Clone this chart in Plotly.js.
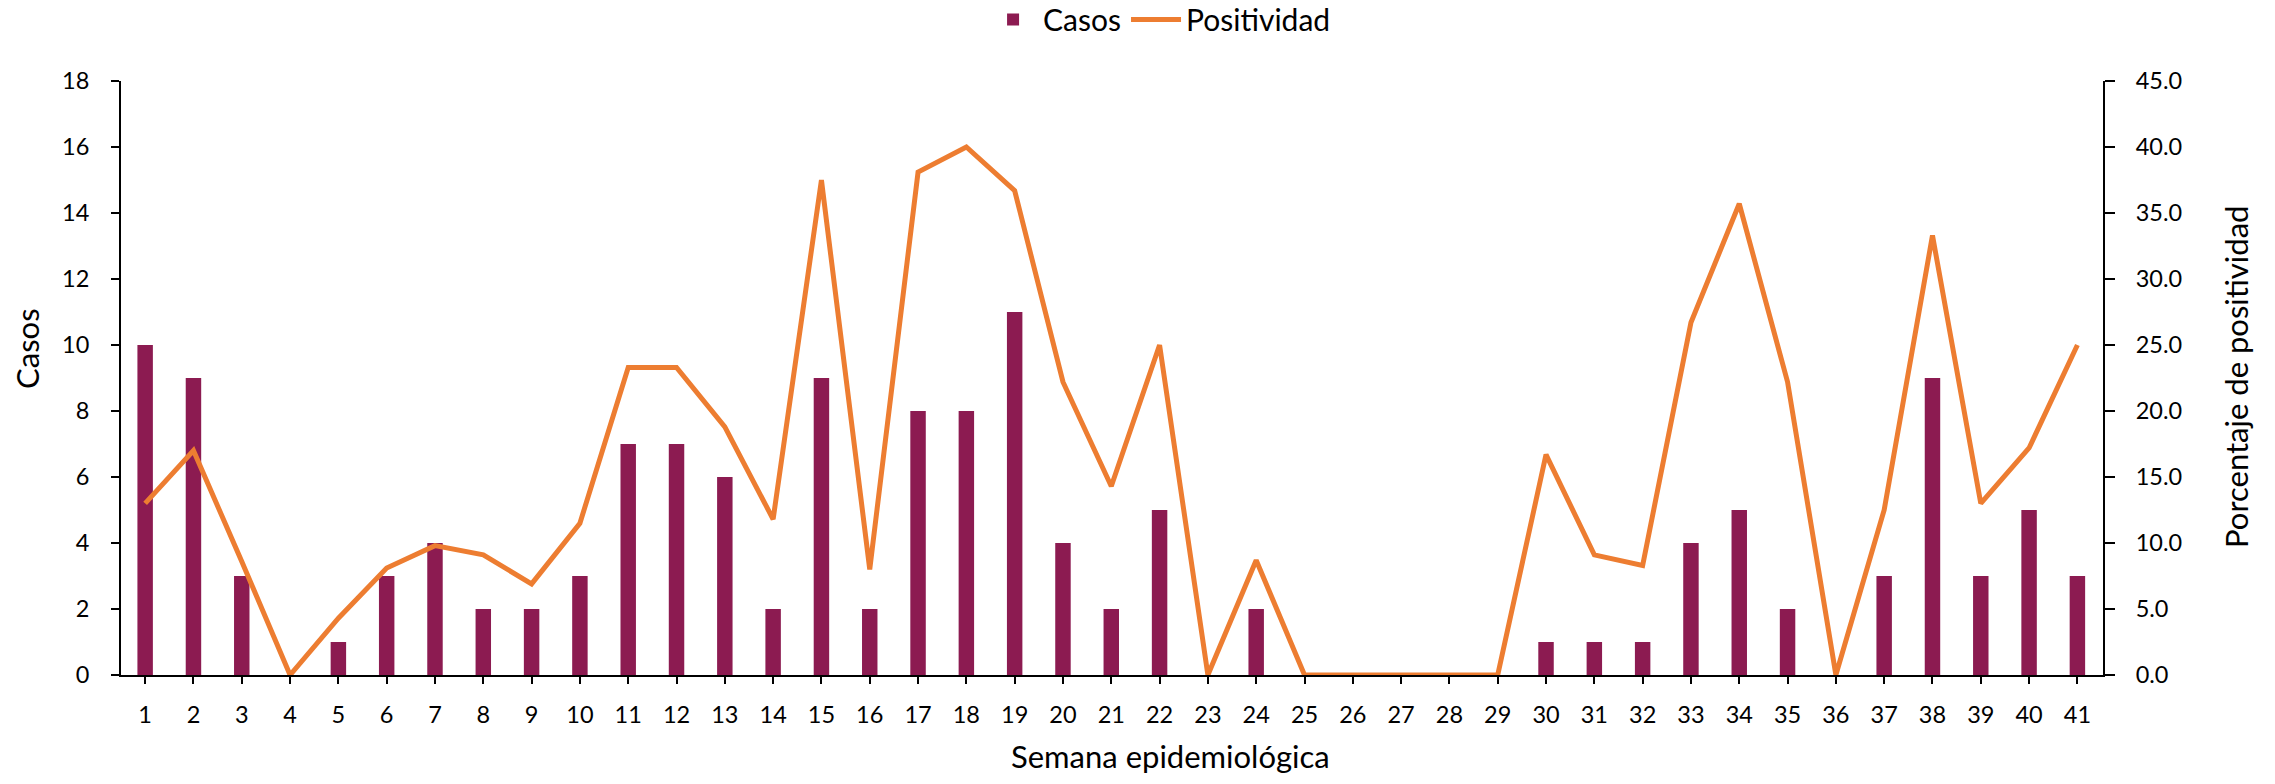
<!DOCTYPE html>
<html>
<head>
<meta charset="utf-8">
<script src="https://cdn.plot.ly/plotly-3.0.1.min.js"></script>
<style>html,body{margin:0;padding:0;background:#fff;}#chart{width:2275px;height:784px;}</style>
</head>
<body>
<div id="chart"></div>
<script>
const semanas = [1,2,3,4,5,6,7,8,9,10,11,12,13,14,15,16,17,18,19,20,21,22,23,24,25,26,27,28,29,30,31,32,33,34,35,36,37,38,39,40,41];
const casos = [10,9,3,0,1,3,4,2,2,3,7,7,6,2,9,2,8,8,11,4,2,5,0,2,0,0,0,0,0,1,1,1,4,5,2,0,3,9,3,5,3];
const positividad = [13.0,17.0,8.6,0,4.3,8.1,9.8,9.1,6.9,11.5,23.3,23.3,18.8,11.8,37.5,8.0,38.1,40.0,36.7,22.2,14.3,25.0,0,8.7,0,0,0,0,0,16.7,9.1,8.3,26.7,35.7,22.2,0,12.5,33.3,13.0,17.2,25.0];
const leftTicks = [0,2,4,6,8,10,12,14,16,18];
const rightTicks = [0,5,10,15,20,25,30,35,40,45];

const tickFont = {family: 'Lato', size: 23.5, color: '#000'};
const titleFont = {family: 'Lato', size: 31, color: '#000'};
const legendFont = {family: 'Lato', size: 30, color: '#000'};

const traces = [
  {
    type: 'bar', name: 'Casos', x: semanas, y: casos,
    width: 0.32, marker: {color: '#8C1B51'}, yaxis: 'y'
  },
  {
    type: 'scatter', mode: 'lines', name: 'Positividad', x: semanas, y: positividad,
    line: {color: '#ED7D31', width: 5}, yaxis: 'y2'
  }
];

const layout = {
  width: 2275, height: 784,
  margin: {l: 121, r: 172, t: 81, b: 109, autoexpand: false},
  paper_bgcolor: '#fff', plot_bgcolor: '#fff',
  showlegend: true,
  legend: {
    orientation: 'h', x: 0.524, xanchor: 'center', yref: 'container', y: 0.975, yanchor: 'middle',
    font: legendFont, itemwidth: 50, traceorder: 'normal'
  },
  xaxis: {
    range: [0.5, 41.53], tickmode: 'array', tickvals: semanas, ticktext: semanas.map(String),
    showgrid: false, zeroline: false, showline: true, linecolor: '#000', linewidth: 2,
    ticks: 'outside', ticklen: 7, tickwidth: 2, tickcolor: '#000',
    tickfont: tickFont, ticklabelstandoff: 11
  },
  yaxis: {
    range: [0, 18], tickmode: 'array', tickvals: leftTicks,
    showgrid: false, zeroline: false, showline: true, linecolor: '#000', linewidth: 2,
    ticks: 'outside', ticklen: 8, tickwidth: 2, tickcolor: '#000',
    tickfont: tickFont, ticklabelstandoff: 17
  },
  yaxis2: {
    range: [0, 45], overlaying: 'y', side: 'right', tickmode: 'array', tickvals: rightTicks,
    ticktext: rightTicks.map(v => v.toFixed(1)),
    showgrid: false, zeroline: false, showline: true, linecolor: '#000', linewidth: 2,
    ticks: 'outside', ticklen: 10, tickwidth: 2, tickcolor: '#000',
    tickfont: tickFont, ticklabelstandoff: 16
  },
  annotations: [
    {text: 'Semana epidemiológica', xref: 'paper', yref: 'paper', x: 0.5293, y: -0.137,
     xanchor: 'center', yanchor: 'middle', showarrow: false, font: titleFont},
    {text: 'Casos', xref: 'paper', yref: 'paper', x: -0.0474, y: 0.549, textangle: -90,
     xanchor: 'center', yanchor: 'middle', showarrow: false, font: titleFont},
    {text: 'Porcentaje de positividad', xref: 'paper', yref: 'paper', x: 1.0671, y: 0.5017, textangle: -90,
     xanchor: 'center', yanchor: 'middle', showarrow: false, font: titleFont}
  ]
};

Plotly.newPlot('chart', traces, layout, {displayModeBar: false, staticPlot: true});
</script>
</body>
</html>
